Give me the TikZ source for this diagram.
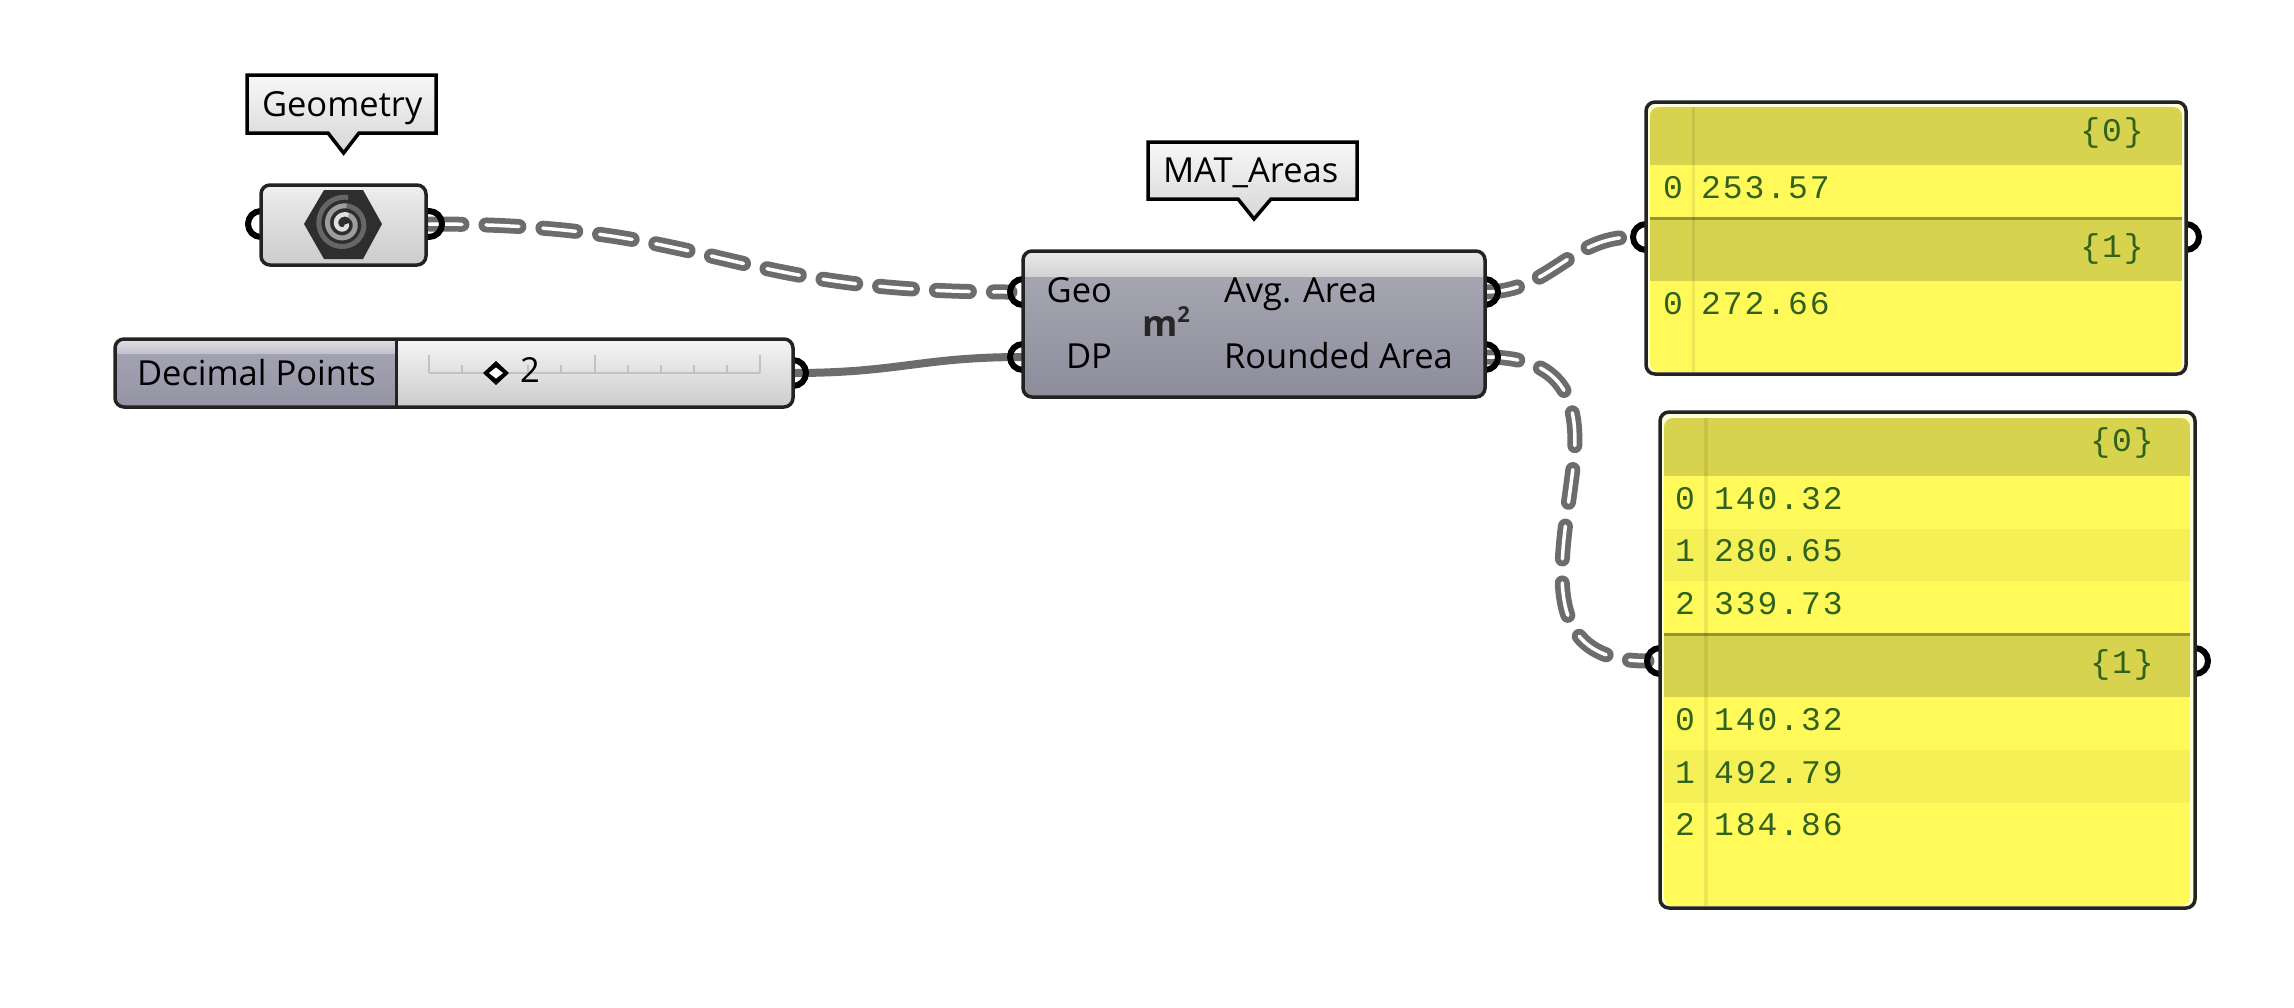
\documentclass[tikz,border=0pt]{standalone}
\usepackage{fontspec}
\setmainfont{Open Sans}
\newfontfamily\gmono[LetterSpace=6]{Liberation Mono}
\definecolor{wiregrey}{RGB}{108,108,108}
\definecolor{edge}{RGB}{35,35,35}
\definecolor{py}{RGB}{255,250,90}
\definecolor{pyalt}{RGB}{245,240,85}
\definecolor{pyhead}{RGB}{216,211,78}
\definecolor{pyline}{RGB}{150,146,60}
\definecolor{pytext}{RGB}{48,98,30}
\pgfdeclarelayer{bg}
\pgfdeclarelayer{wires}
\pgfsetlayers{bg,wires,main}
\tikzset{
  x=1pt,y=-1pt,
  every node/.style={inner sep=0pt,outer sep=0pt},
  gbox/.style={draw=edge,line width=3.5,rounded corners=9,inner sep=0pt},
  port/.style={circle,draw=black,line width=6,minimum size=26},
  dashwire/.style={line width=15,draw=wiregrey,line cap=round,dash pattern=on 33pt off 24pt,
     postaction={draw=white,line width=3.5,dash pattern=on 33pt off 24pt}},
  solidwire/.style={line width=8,draw=wiregrey},
  uitext/.style={font=\fontsize{34.5}{36}\selectfont,text=black,anchor=base west},
  uitextr/.style={font=\fontsize{34.5}{36}\selectfont,text=black,anchor=base east},
  ptext/.style={font=\fontsize{33}{36}\gmono,text=pytext,anchor=base west},
  ptextc/.style={font=\fontsize{33}{36}\gmono,text=pytext,anchor=base},
  tip/.style={draw=black,line width=3.5,miter limit=10,top color=white!97!black,bottom color=black!16},
  tick/.style={draw=black!24,line width=1.5},
}
\begin{document}
\begin{tikzpicture}
\useasboundingbox (0,0) rectangle (2294,1007);
\begin{pgfonlayer}{bg}
\fill[white] (0,0) rectangle (2294,1007);
\end{pgfonlayer}

% ports
\node[port] (geoIn) at (261,224) {};
\node[port] (geoOut) at (429,224) {};
\node[port] (sliOut) at (793,373) {};
\node[port] (matGeo) at (1023,292) {};
\node[port] (matDP) at (1023,357) {};
\node[port] (matAvg) at (1485,292) {};
\node[port] (matRnd) at (1485,357) {};
\node[port] (p1In) at (1646,237) {};
\node[port] (p1Out) at (2186,237) {};
\node[port] (p2In) at (1660,661) {};
\node[port] (p2Out) at (2195,661) {};

% connectors
\begin{pgfonlayer}{wires}
\draw[dashwire] (geoOut.center) .. controls (720,224) and (720,292) .. (matGeo.west);
\draw[solidwire] (sliOut.center) .. controls (900,373) and (920,357) .. (matDP.center);
\draw[dashwire] (matAvg.center) .. controls (1550,292) and (1570,237) .. (p1In.west);
\draw[dashwire] (matRnd.center) .. controls (1560,357) and (1582,395) .. (1573,468)
   .. controls (1562,560) and (1535,661) .. (p2In.west);
\end{pgfonlayer}

% Geometry box
\begin{scope}
\clip[rounded corners=9] (261,185) rectangle (426,265);
\shade[top color=black!6,bottom color=black!12] (261,185) rectangle (426,212);
\shade[top color=black!12,bottom color=black!20] (261,212) rectangle (426,265);
\end{scope}
\node[gbox,minimum width=165,minimum height=80] (geo) at (343.5,225) {};
% icon
\fill[black!82] (304,224) -- (324,190) -- (363,190) -- (382,224) -- (363,259) -- (324,259) -- cycle;
\draw[black!60,line width=5] plot[domain=640:1000,samples=50,smooth] ({343.5+(3+\x*0.024)*cos(\x)},{224+(3+\x*0.024)*sin(\x)});
\draw[black!38,line width=5] plot[domain=300:640,samples=50,smooth] ({343.5+(3+\x*0.024)*cos(\x)},{224+(3+\x*0.024)*sin(\x)});
\draw[black!12,line width=4.5] plot[domain=0:300,samples=40,smooth] ({343.5+(3+\x*0.024)*cos(\x)},{224+(3+\x*0.024)*sin(\x)});

% Decimal Points slider
\begin{scope}
\clip[rounded corners=9] (115,339) rectangle (793,407);
\shade[top color=black!4,bottom color=black!20] (396,339) rectangle (793,407);
\shade[top color={rgb,255:red,224;green,224;blue,230},bottom color={rgb,255:red,192;green,192;blue,204}] (115,339) rectangle (396,354);
\shade[top color={rgb,255:red,162;green,162;blue,178},bottom color={rgb,255:red,148;green,148;blue,164}] (115,354) rectangle (396,407);
\end{scope}
\node[gbox,minimum width=678,minimum height=68] (slider) at (454,373) {};
\draw[edge,line width=3] (396,339) -- (396,407);
\draw[tick] (429,373) -- (760,373);
\foreach \tx/\ty in {429/355,462/365,496/365,528/365,561/365,595/355,628/365,661/365,694/365,727/365,760/355}
  \draw[tick] (\tx,373) -- (\tx,\ty);
\node[uitext] (sliLabel) at (137,385) {Decimal Points};
\fill[black] (496,361) -- (509,373) -- (496,385) -- (483,373) -- cycle;
\fill[white] (496,367.5) -- (503,373) -- (496,378.5) -- (489,373) -- cycle;
\node[uitext] (sliVal) at (520,382) {2};

% Component
\begin{scope}
\clip[rounded corners=9] (1023,251) rectangle (1485,397);
\shade[top color=black!8,bottom color=black!18] (1023,251) rectangle (1485,277);
\shade[top color={rgb,255:red,166;green,166;blue,178},bottom color={rgb,255:red,140;green,140;blue,155}] (1023,277) rectangle (1485,397);
\end{scope}
\node[gbox,minimum width=462,minimum height=146] (mat) at (1254,324) {};
\node[uitextr] (lGeo) at (1112,302) {Geo};
\node[uitextr] (lDP) at (1112,368) {DP};
\node[uitext] (lAvg) at (1224,302) {Avg. Area};
\node[uitext] (lRnd) at (1224,368) {Rounded Area};
\node[uitext,font=\fontsize{36}{38}\selectfont\bfseries,text=black!85] (mIcon) at (1142,336) {m\raisebox{0.38em}{\fontsize{22}{22}\selectfont\bfseries 2}};

% tooltips
\draw[tip] (247,75) -- (436,75) -- (436,133) -- (359,133) -- (343.6,153) -- (328,133) -- (247,133) -- cycle;
\node[uitext] (tGeo) at (262,116) {Geometry};
\draw[tip] (1148,142) -- (1357,142) -- (1357,199) -- (1271,199) -- (1254,219) -- (1238,199) -- (1148,199) -- cycle;
\node[uitext] (tMat) at (1163,182) {MAT\_Areas};

% Panel 1
\fill[rounded corners=9,yellow!15] (1646,102) rectangle (2186,374);
\begin{scope}
\clip[rounded corners=9] (1650,107) rectangle (2182,372);
\fill[py] (1650,107) rectangle (2182,372);
\fill[pyhead] (1650,107) rectangle (2182,165);
\fill[pyhead] (1650,218) rectangle (2182,281);
\fill[pyline] (1650,216.5) rectangle (2182,219.5);
\fill[black,opacity=.08] (1692,107) rectangle (1695,372);
\end{scope}
\node[gbox,minimum width=540,minimum height=272] (panelA) at (1916,238) {};
\node[ptextc] (a0h) at (2112,141) {\{0\}};
\node[ptextc] (a0i) at (1673,198) {0};
\node[ptext] (a0v) at (1701,198) {253.57};
\node[ptextc] (a1h) at (2112,257) {\{1\}};
\node[ptextc] (a1i) at (1673,314) {0};
\node[ptext] (a1v) at (1701,314) {272.66};

% Panel 2
\fill[rounded corners=9,yellow!15] (1660,412) rectangle (2195,908);
\begin{scope}
\clip[rounded corners=9] (1664,418) rectangle (2190,906);
\fill[py] (1664,418) rectangle (2190,906);
\fill[pyhead] (1664,418) rectangle (2190,476);
\fill[pyalt] (1664,529) rectangle (2190,581);
\fill[pyhead] (1664,634) rectangle (2190,697);
\fill[pyalt] (1664,750) rectangle (2190,803);
\fill[pyline] (1664,632.5) rectangle (2190,635.5);
\fill[black,opacity=.08] (1704,418) rectangle (1708,906);
\end{scope}
\node[gbox,minimum width=535,minimum height=496] (panelB) at (1927.5,660) {};
\node[ptextc] (b0h) at (2122,451) {\{0\}};
\node[ptextc] (b0i) at (1685,509) {0};
\node[ptext] (b0v) at (1714,509) {140.32};
\node[ptextc] (b1i) at (1685,561) {1};
\node[ptext] (b1v) at (1714,561) {280.65};
\node[ptextc] (b2i) at (1685,614) {2};
\node[ptext] (b2v) at (1714,614) {339.73};
\node[ptextc] (b3h) at (2122,673) {\{1\}};
\node[ptextc] (b3i) at (1685,730) {0};
\node[ptext] (b3v) at (1714,730) {140.32};
\node[ptextc] (b4i) at (1685,783) {1};
\node[ptext] (b4v) at (1714,783) {492.79};
\node[ptextc] (b5i) at (1685,835) {2};
\node[ptext] (b5v) at (1714,835) {184.86};
\end{tikzpicture}
\end{document}
